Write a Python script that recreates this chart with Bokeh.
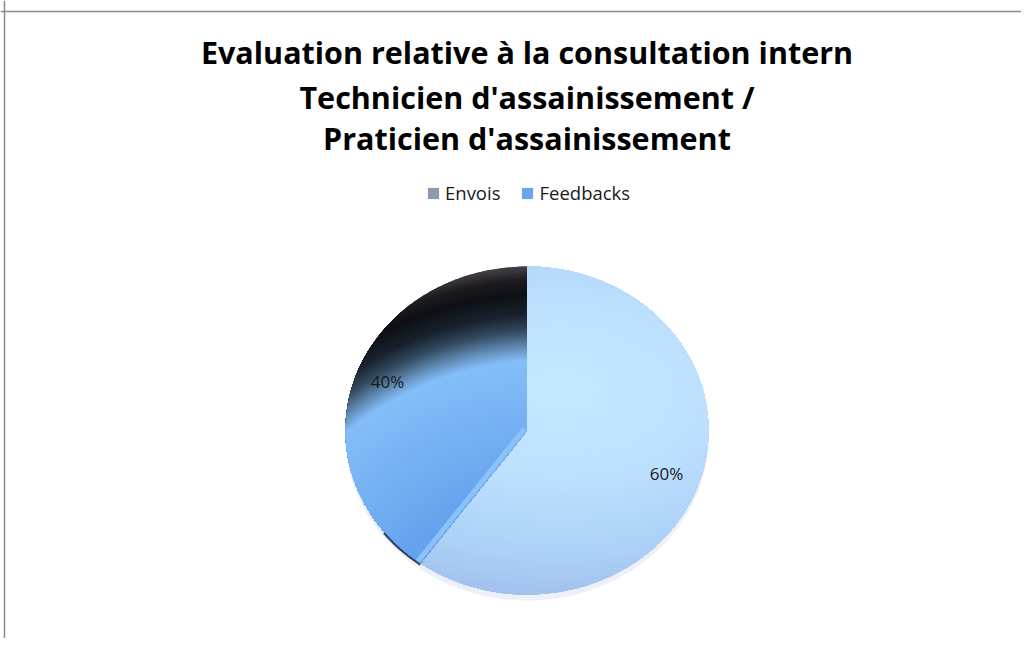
import numpy as np
from bokeh.plotting import figure
from bokeh.models import Range1d, Label, Legend, LegendItem, ColumnDataSource, Span
from bokeh.embed import file_html
from bokeh.resources import INLINE
from bokeh.core.properties import value

# ---------------- data ----------------
title_lines = ["Evaluation relative à la consultation intern",
               "Technicien d'assainissement /",
               "Praticien d'assainissement"]
categories = ["Envois", "Feedbacks"]
shares = [60, 40]
legend_colors = ["#8d9aae", "#6aa6ee"]

# ---------------- figure ----------------
W, H = 1021, 638
p = figure(width=W, height=H, output_backend="svg", toolbar_location=None,
           x_range=Range1d(0, W), y_range=Range1d(H, 0),
           x_axis_location=None, y_axis_location=None, min_border=0)
p.grid.visible = False
p.outline_line_color = None
p.background_fill_color = "white"

# chart frame
p.add_layout(Span(location=11, dimension="width", line_color="#8a8a8a", line_width=1.5))
p.add_layout(Span(location=4, dimension="height", line_color="#8a8a8a", line_width=1.5))

# ---------------- pie geometry ----------------
CX, CY, RX, RY = 526.5, 430.0, 181.5, 164.0


def ell_pt(theta, scale=1.0, dy=0.0, yscale=None):
    t = np.radians(theta)
    ys = scale if yscale is None else yscale
    return CX + RX * scale * np.sin(t), CY + dy - RY * ys * np.cos(t)


def wedge_poly(a0, a1, n=140):
    th = np.linspace(a0, a1, n)
    xs, ys = ell_pt(th)
    return [(CX, CY)] + list(zip(xs, ys))


def ellipse_poly(fx, fy, r, kx=1.0, n=120):
    t = np.linspace(0, 2 * np.pi, n, endpoint=False)
    return list(zip(fx + (r / kx) * np.cos(t), fy + r * np.sin(t)))


def clip(subject, clipper):
    # Sutherland-Hodgman against a convex clipper
    area = 0.0
    for i in range(len(clipper)):
        x1, y1 = clipper[i]
        x2, y2 = clipper[(i + 1) % len(clipper)]
        area += x1 * y2 - x2 * y1
    s = 1.0 if area > 0 else -1.0

    def inside(pt, a, b):
        return s * ((b[0] - a[0]) * (pt[1] - a[1]) - (b[1] - a[1]) * (pt[0] - a[0])) >= 0

    def inter(p1, p2, a, b):
        x1, y1 = p1; x2, y2 = p2; x3, y3 = a; x4, y4 = b
        den = (x1 - x2) * (y3 - y4) - (y1 - y2) * (x3 - x4)
        if den == 0:
            return p2
        t = ((x1 - x3) * (y3 - y4) - (y1 - y3) * (x3 - x4)) / den
        return (x1 + t * (x2 - x1), y1 + t * (y2 - y1))

    out = list(subject)
    for i in range(len(clipper)):
        a = clipper[i]
        b = clipper[(i + 1) % len(clipper)]
        inp = out
        out = []
        if not inp:
            break
        prev = inp[-1]
        for cur in inp:
            if inside(cur, a, b):
                if not inside(prev, a, b):
                    out.append(inter(prev, cur, a, b))
                out.append(cur)
            elif inside(prev, a, b):
                out.append(inter(prev, cur, a, b))
            prev = cur
    return out


def hex2rgb(h):
    h = h.lstrip("#")
    return np.array([int(h[i:i + 2], 16) for i in (0, 2, 4)], dtype=float)


def color_at(stops, d):
    ds = [s[0] for s in stops]
    cs = [hex2rgb(s[1]) for s in stops]
    if d <= ds[0]:
        c = cs[0]
    elif d >= ds[-1]:
        c = cs[-1]
    else:
        for i in range(len(ds) - 1):
            if ds[i] <= d <= ds[i + 1]:
                f = (d - ds[i]) / (ds[i + 1] - ds[i])
                c = cs[i] * (1 - f) + cs[i + 1] * f
                break
    return "#%02x%02x%02x" % tuple(int(round(v)) for v in c)


# slice angles from the data (clockwise from 12 o'clock)
total = float(sum(shares))
ends = np.cumsum(shares) / total * 360.0
starts = np.concatenate([[0.0], ends[:-1]])
mids = (starts + ends) / 2.0

# shadow under the pie
th = np.linspace(0, 360, 200)
sx, sy = ell_pt(th, dy=6.0)
p.patch(sx, sy, fill_color="#edf1f7", line_color=None)

# gradient definitions per slice: focal point, x-stretch, colour stops
grads = [
    dict(f=(560.0, 390.0), kx=0.6, step=4,
         stops=[(0, "#c6e8ff"), (100, "#bcdffe"), (125, "#b5d9fc"),
                (170, "#accff6"), (205, "#a2c2ed"), (235, "#9fbfea")]),
    dict(f=(550.0, 680.0), kx=1.0, step=2.0,
         stops=[(150, "#5f9bea"), (200, "#68a4ee"), (270, "#78b3f4"), (322, "#84bef8"),
                (328, "#76a8dc"), (340, "#557a9c"), (352, "#33495f"), (368, "#18222d"),
                (388, "#0e1015"), (402, "#1c1a1f"), (415, "#423e44")]),
]

base_xs, base_ys, base_cols = [], [], []
layer_xs, layer_ys, layer_cols = [], [], []
for i, cat in enumerate(categories):
    poly = wedge_poly(starts[i], ends[i])
    g = grads[i]
    rmin, rmax = g["stops"][0][0], g["stops"][-1][0]
    base_xs.append([q[0] for q in poly])
    base_ys.append([q[1] for q in poly])
    base_cols.append(color_at(g["stops"], rmax))
    r = rmax
    while r >= max(rmin, 1):
        cp = clip(poly, ellipse_poly(g["f"][0], g["f"][1], r, g["kx"]))
        if len(cp) >= 3:
            layer_xs.append([q[0] for q in cp])
            layer_ys.append([q[1] for q in cp])
            layer_cols.append(color_at(g["stops"], r))
        r -= g["step"]

slices = ColumnDataSource(dict(xs=base_xs, ys=base_ys, color=base_cols,
                               category=categories, share=shares))
p.patches("xs", "ys", source=slices, fill_color="color", line_color=None)
p.patches(layer_xs, layer_ys, fill_color=layer_cols, line_color=None)

# 3D side face along the split between the slices
split = ends[0]
ex, ey = ell_pt(split)
ang = np.radians(split)
nx, ny = np.cos(ang) * 3.0, np.sin(ang) * 3.0
p.line([CX + nx, ex + nx], [CY + ny, ey + ny], line_color="#8cc2fb", line_width=5)
# dark rim at the lower-left of the second slice
rth = np.linspace(split, split + 16, 20)
rx_, ry_ = ell_pt(rth, scale=1.0, dy=1.5)
p.line(rx_, ry_, line_color="#2b3f58", line_width=2)

# percentage labels
lx, ly = ell_pt(mids, scale=0.808, yscale=0.908, dy=-3.0)
pct = ["%d%%" % round(s / total * 100) for s in shares]
p.text(x=list(lx), y=list(ly), text=pct, text_align="center", text_baseline="middle",
       text_font=value("Open Sans"), text_font_size="17px", text_color="#1a1a1a")

# title
for yb, line in zip([51, 96, 137], title_lines):
    p.add_layout(Label(x=526.5, y=yb, text=line, text_align="center", text_baseline="alphabetic",
                       text_font="Open Sans", text_font_style="bold", text_font_size="30.5px",
                       text_color="#000000"))

# legend
items = []
for cat, col in zip(categories, legend_colors):
    r = p.quad(left=[np.nan], right=[np.nan], top=[np.nan], bottom=[np.nan],
               fill_color=col, line_color=None)
    items.append(LegendItem(label=cat, renderers=[r]))
legend = Legend(items=items, orientation="horizontal", location=(426, 433),
                glyph_width=14, glyph_height=14, label_standoff=5, spacing=20,
                padding=0, margin=0, border_line_color=None, background_fill_alpha=0,
                label_text_font="Open Sans", label_text_font_size="18.5px",
                label_text_color="#1a1a1a")
p.add_layout(legend, "center")

open("out.html", "w").write(file_html(p, INLINE))
